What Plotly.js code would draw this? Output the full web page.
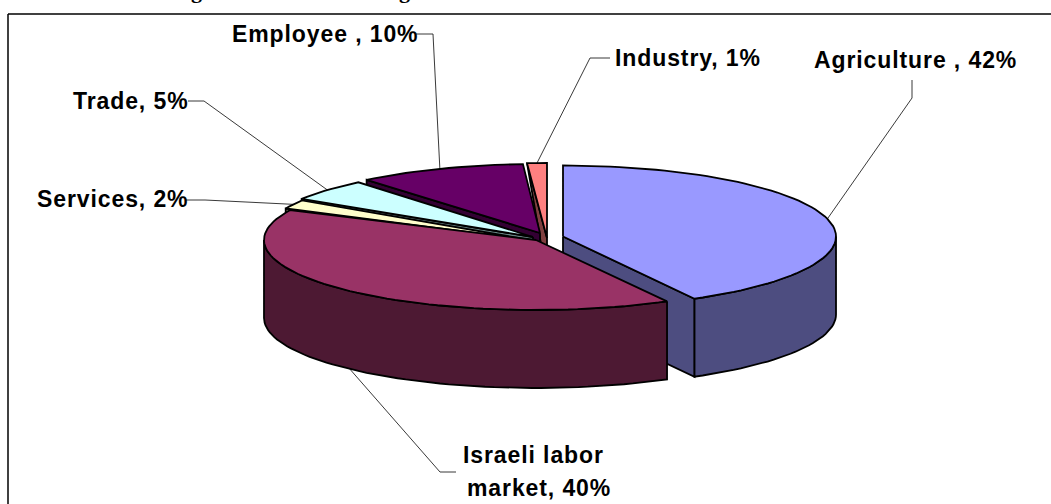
<!DOCTYPE html>
<html>
<head>
<meta charset="utf-8">
<script src="https://cdn.plot.ly/plotly-3.0.1.min.js"></script>
<style>html,body{margin:0;padding:0;background:#fff;overflow:hidden}#chart{width:1051px;height:504px}
.annotation-text{letter-spacing:0.9px}</style>
</head>
<body>
<div id="chart"></div>
<script>
// Data, clockwise from twelve o'clock
const categories = ["Agriculture", "Israeli labor market", "Services", "Trade", "Employee", "Industry"];
const shares = [42, 40, 2, 5, 10, 1];
const labelLines = [["Agriculture , 42%"], ["Israeli labor", "market, 40%"], ["Services, 2%"], ["Trade, 5%"], ["Employee , 10%"], ["Industry, 1%"]];
const topColors = ["#9999FF", "#993366", "#FFFFCC", "#CCFFFF", "#660066", "#FF8080"];
const sideColors = ["#4D4D80", "#4D1933", "#808066", "#668080", "#330033", "#804040"];

// Layout: exploded centre and ellipse of each slice, in chart pixels
const centreX = [563, 536, 530, 533, 540, 547];
const centreY = [236.5, 240, 240, 237, 233, 238];
const radiusX = [273, 272, 270, 274, 272, 318];
const radiusY = [71, 70, 74, 71, 69, 75];
const depth = 78;
const elbowX = [912, 440, 205, 204, 433, 590];
const elbowY = [98, 472, 200, 101, 34, 58];
const stubX = [912, 456, 185, 188, 416, 610];
const stubY = [80, 472, 200, 101, 34, 58];
const labelX = [812, 461, 35, 71, 230, 613];
const labelY = [60, 455, 199, 101, 34, 58];
const secondLine = {x: 465, y: 488};
const drawOrder = [5, 4, 3, 2, 0, 1];
const fontFamily = "Liberation Sans, Arial, sans-serif";

const total = shares.reduce((a, b) => a + b, 0);
const starts = [];
shares.reduce((acc, s, i) => { starts[i] = acc; return acc + s / total * 360; }, 0);
const ends = shares.map((s, i) => starts[i] + s / total * 360);
const rad = d => d * Math.PI / 180;
const rim = (i, deg) => [centreX[i] + radiusX[i] * Math.sin(rad(deg)), centreY[i] - radiusY[i] * Math.cos(rad(deg))];
function arc(i, a, b) {
  const pts = [], n = Math.max(2, Math.ceil(Math.abs(b - a) / 2));
  for (let k = 0; k <= n; k++) pts.push(rim(i, a + (b - a) * k / n));
  return pts;
}
function poly(pts, fill) {
  const closed = pts.concat([pts[0]]);
  return {type: "scatter", mode: "lines", x: closed.map(p => p[0]), y: closed.map(p => p[1]),
    fill: "toself", fillcolor: fill, line: {color: "#000", width: 1.8, shape: "linear"},
    hoverinfo: "skip", showlegend: false};
}
const down = p => [p[0], p[1] + depth];

const traces = [];
// leader lines
shares.forEach((s, i) => {
  let mid = (starts[i] + ends[i]) / 2;
  let p = rim(i, mid);
  if (i === 1) p = down(p);
  traces.push({type: "scatter", mode: "lines", x: [p[0], elbowX[i], stubX[i]], y: [p[1], elbowY[i], stubY[i]],
    line: {color: "#222", width: 0.9}, hoverinfo: "skip", showlegend: false});
});
// slices, back to front
drawOrder.forEach(i => {
  const apex = [centreX[i], centreY[i]];
  const a = starts[i], b = ends[i];
  if (i === 5) {
    // thin sliver of the inner face
    traces.push(poly([rim(i, a), apex, [apex[0], apex[1] + 8], [apex[0] - 6, apex[1] + 6]], sideColors[i]));
  } else if (i === 0) {
    // right-hand slice shows the cut face on its closing edge
    const edge = rim(i, b);
    traces.push(poly([apex, edge, down(edge), down(apex)], sideColors[i]));
  } else if (i !== 1) {
    // left-hand slices show the cut face on their opening edge
    const edge = rim(i, a);
    traces.push(poly([apex, edge, down(edge), down(apex)], sideColors[i]));
  }
  // outer wall for the parts of the rim facing the viewer
  const wa = Math.max(a, 90), wb = Math.min(b, 270);
  if (wb > wa) {
    const wall = arc(i, wa, wb);
    traces.push(poly(wall.concat(wall.slice().reverse().map(down)), sideColors[i]));
  }
  traces.push(poly([apex].concat(arc(i, a, b)), topColors[i]));
});

const annotations = [];
labelLines.forEach((lines, i) => {
  lines.forEach((t, j) => {
    annotations.push({text: t, x: j ? secondLine.x : labelX[i], y: j ? secondLine.y : labelY[i], xref: "x", yref: "y",
      xanchor: "left", yanchor: "middle", showarrow: false,
      font: {family: fontFamily, size: 23, color: "#000", weight: 700}});
  });
});
// clipped descenders of the title line that runs off the top of the picture
["g", "g"].forEach((t, k) => annotations.push({text: t, x: k ? 405 : 197, y: 1, xref: "x", yref: "paper",
  xanchor: "center", yanchor: "bottom", yshift: -5, showarrow: false,
  font: {family: "Liberation Serif, serif", size: 22, color: "#000", weight: 700}}));

const layout = {
  width: 1051, height: 504, margin: {l: 0, r: 0, t: 0, b: 0},
  paper_bgcolor: "#fff", plot_bgcolor: "#fff", showlegend: false,
  xaxis: {range: [0, 1051], visible: false, fixedrange: true},
  yaxis: {range: [504, 0], visible: false, fixedrange: true},
  annotations,
  shapes: [
    {type: "line", xref: "x", yref: "y", x0: 8, x1: 1051, y0: 14, y1: 14, line: {color: "#404040", width: 2}},
    {type: "line", xref: "x", yref: "y", x0: 8, x1: 8, y0: 14, y1: 504, line: {color: "#000", width: 1.5}}
  ]
};
Plotly.newPlot("chart", traces, layout, {displayModeBar: false, staticPlot: true});
</script>
</body>
</html>
